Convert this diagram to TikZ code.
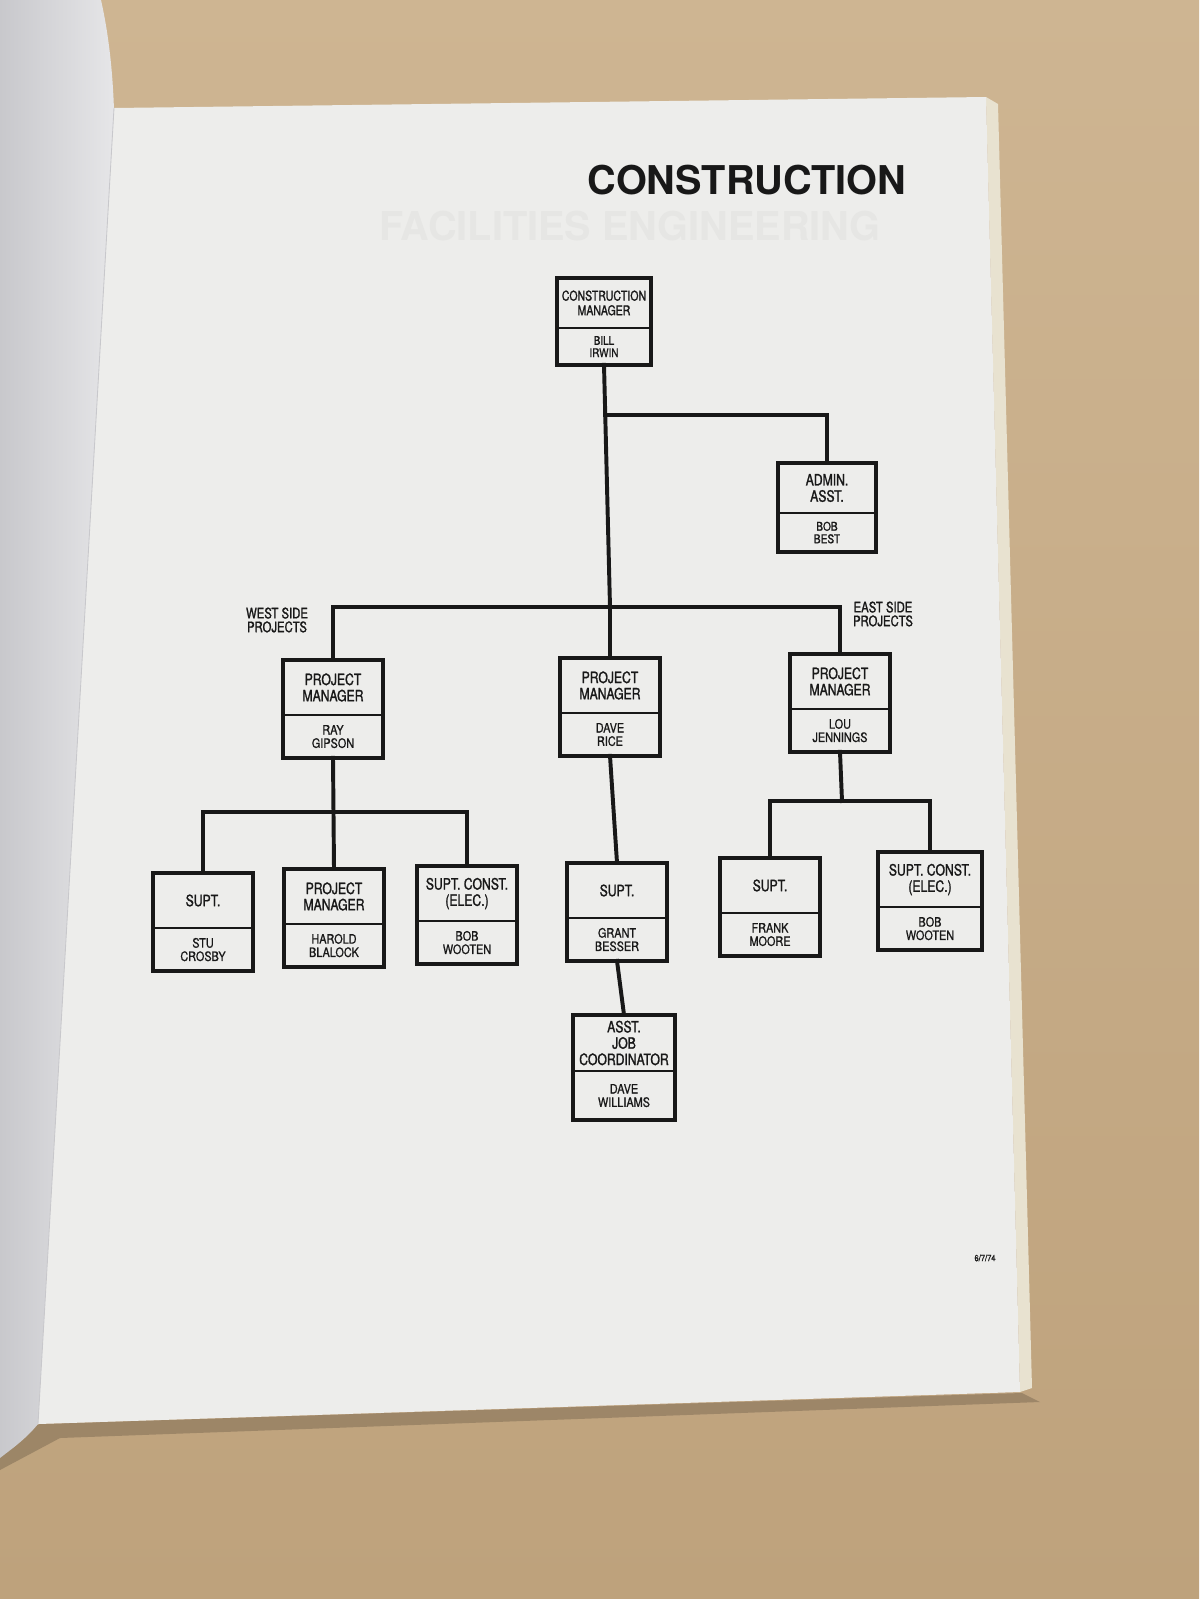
\documentclass[tikz,border=0pt]{standalone}
\usepackage{fontspec}
\setmainfont{TeX Gyre Heros}
\newfontfamily\boxfont[FakeStretch=0.78, FakeBold=1.3]{TeX Gyre Heros}
\newfontfamily\namefont[FakeStretch=0.84, FakeBold=0.9]{TeX Gyre Heros}
\usetikzlibrary{positioning}

\definecolor{wood}{RGB}{206,181,146}
\definecolor{woodlow}{RGB}{190,162,124}
\definecolor{paper}{RGB}{237,237,235}
\definecolor{leafhi}{RGB}{230,230,232}
\definecolor{leaflo}{RGB}{200,200,204}
\definecolor{pageedge}{RGB}{232,226,208}
\definecolor{ink}{RGB}{24,24,24}

\tikzset{
  post/.style={minimum width=2.5cm, minimum height=1.375cm, inner sep=0pt,
    align=center, text=ink, font=\boxfont\fontsize{11.1}{11.6}\selectfont},
  who/.style={below=0pt of #1, minimum width=2.5cm, minimum height=1.05cm,
    inner sep=0pt, align=center, text=ink, font=\namefont\fontsize{9.2}{9.5}\selectfont},
  link/.style={draw=ink, line width=2.8pt, line cap=rect},
  boxline/.style={draw=ink, line width=2.6pt},
  divider/.style={draw=ink, line width=1.3pt},
  side/.style={inner sep=0pt, align=center, text=ink,
    font=\boxfont\fontsize{10.3}{9.8}\selectfont}
}

\begin{document}
\begin{tikzpicture}[x=0.025cm, y=-0.025cm, line join=miter]

\useasboundingbox (0,0) rectangle (1199,1599);

% table, left leaf, page
\shade[top color=wood, bottom color=woodlow] (0,0) rectangle (1199,1599);
\fill[black, opacity=0.18] (0,1440) -- (40,1424) -- (1022,1393) -- (1040,1402) -- (60,1438) -- (0,1470) -- cycle;
\shade[left color=leaflo, right color=leafhi]
  (0,0) -- (101,0) .. controls (110,40) and (113,80) .. (114,110)
  -- (38,1424) .. controls (25,1440) and (10,1450) .. (0,1458) -- cycle;
\fill[pageedge] (986,97) -- (998,104) -- (1032,1388) -- (1020,1392) -- cycle;
\fill[paper] (114,108) -- (986,97) -- (1020,1392) -- (38,1424) -- cycle;
\draw[leaflo, line width=0.6pt] (114,108) -- (38,1424);

% print-through from the next sheet
\node[inner sep=0pt, text=paper!97!black, font=\bfseries\fontsize{28.2}{30}\selectfont]
  (ghost) at (630,226) {FACILITIES ENGINEERING};

% title
\node[inner sep=0pt, text=ink, font=\bfseries\fontsize{28.2}{30}\selectfont]
  (title) at (747,180) {CONSTRUCTION};

% boxes
\node[post, minimum width=2.35cm, minimum height=1.25cm,
  font=\boxfont\fontsize{9.6}{10.4}\selectfont] (cm) at (604,303) {CONSTRUCTION\\MANAGER};
\node[who=cm, minimum width=2.35cm, minimum height=0.9cm,
  font=\namefont\fontsize{8.4}{8.7}\selectfont] (cm-n) {BILL\\IRWIN};

\node[post, minimum width=2.425cm, minimum height=1.25cm] (ad) at (827,488) {ADMIN.\\ASST.};
\node[who=ad, minimum width=2.425cm, minimum height=0.95cm,
  font=\namefont\fontsize{8.6}{8.9}\selectfont] (ad-n) {BOB\\BEST};

\node[post] (wpm) at (333,687.5) {PROJECT\\MANAGER};
\node[who=wpm] (wpm-n) {RAY\\GIPSON};

\node[post] (cpm) at (610,685.5) {PROJECT\\MANAGER};
\node[who=cpm] (cpm-n) {DAVE\\RICE};

\node[post] (epm) at (840,681.5) {PROJECT\\MANAGER};
\node[who=epm] (epm-n) {LOU\\JENNINGS};

\node[post] (ws) at (203,900.5) {SUPT.};
\node[who=ws] (ws-n) {STU\\CROSBY};

\node[post] (wp) at (334,896.5) {PROJECT\\MANAGER};
\node[who=wp] (wp-n) {HAROLD\\BLALOCK};

\node[post] (we) at (467,893.5) {SUPT. CONST.\\(ELEC.)};
\node[who=we] (we-n) {BOB\\WOOTEN};

\node[post] (cs) at (617,890.5) {SUPT.};
\node[who=cs] (cs-n) {GRANT\\BESSER};

\node[post, minimum width=2.55cm, minimum height=1.4cm] (aj) at (624,1043) {ASST.\\JOB\\COORDINATOR};
\node[who=aj, minimum width=2.55cm, minimum height=1.2cm] (aj-n) {DAVE\\WILLIAMS};

\node[post] (es) at (770,885.5) {SUPT.};
\node[who=es] (es-n) {FRANK\\MOORE};

\node[post, minimum width=2.6cm] (ee) at (930,879.5) {SUPT. CONST.\\(ELEC.)};
\node[who=ee, minimum width=2.6cm] (ee-n) {BOB\\WOOTEN};

% side labels
\node[side] (west) at (277,620) {WEST SIDE\\PROJECTS};
\node[side] (east) at (883,614) {EAST SIDE\\PROJECTS};

% date
\node[inner sep=0pt, text=ink, font=\namefont\fontsize{6.4}{7}\selectfont] (date) at (985,1258) {6/7/74};

% connectors
\coordinate (mbus) at (610,607);
\coordinate (ajoin) at (605,415);
\coordinate (wbus) at (334,812);
\coordinate (ebus) at (842,801);

\draw[link] (cm-n.south) -- (mbus) -- (cpm.north);
\draw[link] (ajoin) -| (ad.north);
\draw[link] (wpm.north) |- (mbus) -| (epm.north);
\draw[link] (wpm-n.south) -- (wp.north);
\draw[link] (ws.north) |- (wbus) -| (we.north);
\draw[link] (cpm-n.south) -- (cs.north);
\draw[link] (cs-n.south) -- (aj.north);
\draw[link] (epm-n.south) -- (ebus);
\draw[link] (es.north) |- (ebus) -| (ee.north);

% outlines
\foreach \b in {cm,ad,wpm,cpm,epm,ws,wp,we,cs,aj,es,ee}{
  \draw[boxline] (\b.north west) rectangle (\b-n.south east);
  \draw[divider] (\b.south west) -- (\b.south east);
}

\end{tikzpicture}
\end{document}
